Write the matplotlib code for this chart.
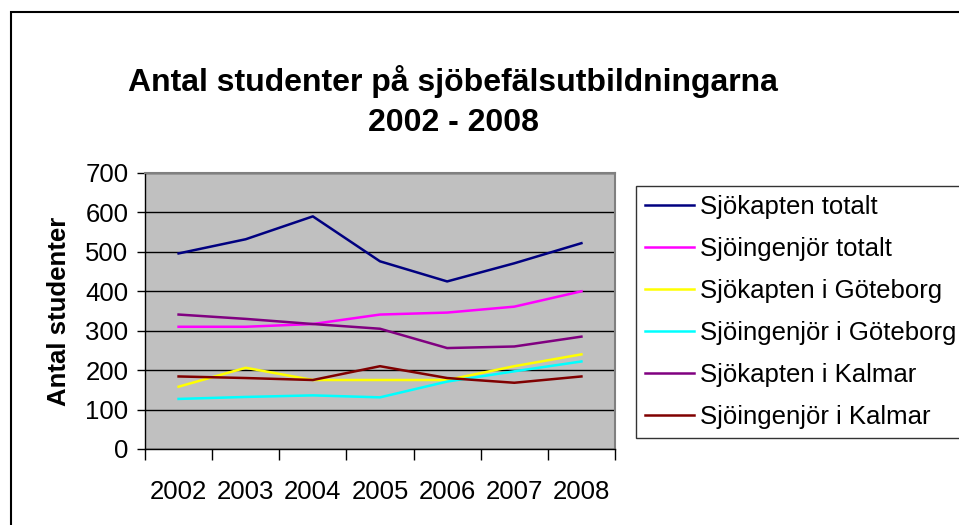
import matplotlib.pyplot as plt
from matplotlib.patches import Rectangle

plt.rcParams['font.family'] = ['Liberation Sans', 'DejaVu Sans']

years = ['2002', '2003', '2004', '2005', '2006', '2007', '2008']
kapten_tot = [496, 532, 590, 476, 425, 471, 522]
ingenjor_tot = [310, 310, 317, 341, 346, 361, 400]
kapten_gbg = [158, 206, 175, 175, 175, 210, 240]
ingenjor_gbg = [127, 132, 136, 131, 171, 197, 222]
kapten_kalmar = [341, 330, 317, 305, 256, 260, 285]
ingenjor_kalmar = [184, 180, 175, 210, 180, 168, 184]

series = [
    ('Sjökapten totalt', kapten_tot, '#000080'),
    ('Sjöingenjör totalt', ingenjor_tot, '#ff00ff'),
    ('Sjökapten i Göteborg', kapten_gbg, '#ffff00'),
    ('Sjöingenjör i Göteborg', ingenjor_gbg, '#00ffff'),
    ('Sjökapten i Kalmar', kapten_kalmar, '#800080'),
    ('Sjöingenjör i Kalmar', ingenjor_kalmar, '#800000'),
]

W, H = 959, 525
fig = plt.figure(figsize=(W / 100, H / 100), dpi=100)
ax = fig.add_axes([145 / W, 1 - 449 / H, (615 - 145) / W, (449 - 173) / H])
ax.set_facecolor('#c0c0c0')

x = list(range(len(years)))
for name, vals, col in series:
    ax.plot(x, vals, color=col, lw=1.8, label=name, zorder=3)

ax.set_xlim(-0.5, 6.5)
ax.set_ylim(0, 700)
ax.set_yticks(range(0, 701, 100))
ax.yaxis.grid(True, color='black', lw=1)
ax.set_axisbelow(True)
ax.tick_params(axis='y', labelsize=18.5, length=6, width=1, pad=6)
ax.set_xticks(x)
ax.set_xticklabels(years)
ax.tick_params(axis='x', which='major', length=0, labelsize=18.5, pad=22)
ax.set_xticks([i - 0.5 for i in range(8)], minor=True)
ax.tick_params(axis='x', which='minor', length=8, width=1)
for s in ['top', 'right']:
    ax.spines[s].set_color('#808080')
    ax.spines[s].set_linewidth(1.5)
for s in ['left', 'bottom']:
    ax.spines[s].set_color('black')
    ax.spines[s].set_linewidth(1)

ax.set_ylabel('Antal studenter', fontsize=18.5, fontweight='bold', labelpad=10)

fig.text(453 / W, 1 - 81 / H, 'Antal studenter på sjöbefälsutbildningarna',
         ha='center', va='center', fontsize=23, fontweight='bold')
fig.text(453 / W, 1 - 123 / H, '2002 - 2008',
         ha='center', va='center', fontsize=23, fontweight='bold')

leg = fig.legend(loc='upper left', bbox_to_anchor=(636 / W, 1 - 186 / H),
                 fontsize=18.5, frameon=True, fancybox=False, borderaxespad=0,
                 handlelength=1.9, handletextpad=0.22, labelspacing=0.70,
                 borderpad=0.36, handleheight=0.7)
leg.get_frame().set_edgecolor('black')
leg.get_frame().set_linewidth(1)

fig.patches.append(Rectangle((11 / W, -0.1), 1.2, 1.1 - 12 / H,
                             transform=fig.transFigure, fill=False,
                             edgecolor='black', lw=1.5))

fig.savefig('out.png', dpi=100)
